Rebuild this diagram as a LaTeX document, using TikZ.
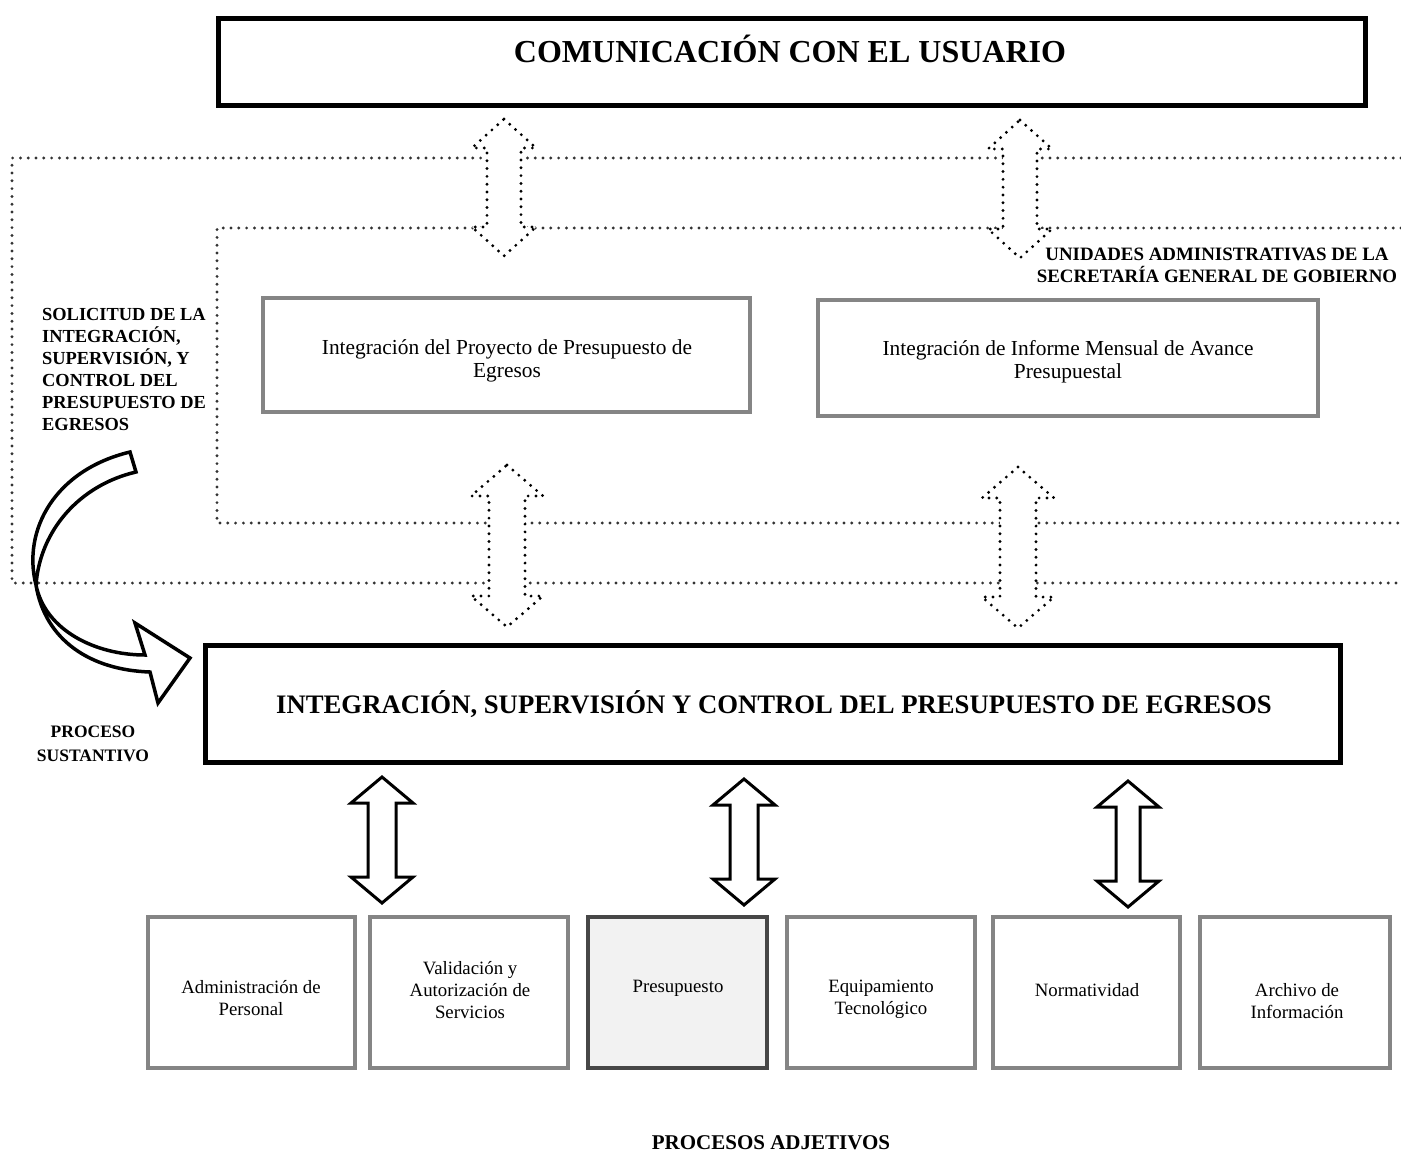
\documentclass[tikz,border=0pt]{standalone}
\usepackage{fontspec}
\setmainfont{Liberation Serif}
\newcommand\vdblarrow[7]{% style, cx, ytop, ybot, headhalf, shafthalf, headlen
  \draw[#1] (#2,#3) -- ({#2+#5},{#3+#7}) -- ({#2+#6},{#3+#7}) -- ({#2+#6},{#4-#7})
    -- ({#2+#5},{#4-#7}) -- (#2,#4) -- ({#2-#5},{#4-#7}) -- ({#2-#6},{#4-#7})
    -- ({#2-#6},{#3+#7}) -- ({#2-#5},{#3+#7}) -- cycle;}
\begin{document}
\begin{tikzpicture}[x=1pt,y=-1pt,
  thickbox/.style={draw=black, line width=5pt, fill=white, inner sep=0pt},
  graybox/.style={draw=black!48, line width=4pt, fill=white, inner sep=0pt},
  darkbox/.style={draw=black!72, line width=4pt, fill=black!5, inner sep=0pt},
  dotline/.style={line width=3.2pt, dash pattern=on 0pt off 7.8pt, line cap=round, draw=black!80},
  dotarrow/.style={line width=3.2pt, dash pattern=on 0pt off 7.8pt, line cap=round, draw=black, fill=white},
  solidarrow/.style={draw=black, line width=3pt, fill=white, line join=miter},
  boldlbl/.style={font=\bfseries\fontsize{18.4}{22}\selectfont, inner sep=0pt},
  boxtxt/.style={font=\fontsize{18.8}{22}\selectfont, align=center, inner sep=0pt},
  midtxt/.style={font=\fontsize{21.4}{23}\selectfont, align=center, inner sep=0pt},
]
\useasboundingbox (0,0) rectangle (1401,1151);

% dotted frames
\draw[dotline] (1401,158) -- (12,158) -- (12,583) -- (1401,583);
\draw[dotline] (1401,228) -- (217,228) -- (217,523) -- (1401,523);

% top box
\node[thickbox, minimum width=1147pt, minimum height=87pt] (usuario) at (791.5,61.5) {};
\node[font=\bfseries\fontsize{32}{38}\selectfont, anchor=base, inner sep=0pt] (usuariotxt) at (790,62) {COMUNICACIÓN CON EL USUARIO};

% middle boxes
\node[graybox, minimum width=487pt, minimum height=114pt] (proyecto) at (506.5,355) {};
\node[midtxt] (proyectotxt) at (507,361) {Integración del Proyecto de Presupuesto de\\Egresos};
\node[graybox, minimum width=500pt, minimum height=116pt] (informe) at (1068,358) {};
\node[midtxt] (informetxt) at (1068,362) {Integración de Informe Mensual de Avance\\Presupuestal};

% dotted double arrows
\vdblarrow{dotarrow}{504}{119}{256}{32}{17}{29}
\vdblarrow{dotarrow}{1020}{120}{258}{32}{17}{29}
\vdblarrow{dotarrow}{507}{465}{627}{36}{18}{31}
\vdblarrow{dotarrow}{1018}{467}{628}{36}{18}{31}

% labels
\node[boldlbl, align=left, anchor=north west] (solicitud) at (42,308)
  {SOLICITUD DE LA\\INTEGRACIÓN,\\SUPERVISIÓN, Y\\CONTROL DEL\\PRESUPUESTO DE\\EGRESOS};
\node[boldlbl, font=\bfseries\fontsize{18.9}{22}\selectfont, align=center, anchor=north] (unidades) at (1217,248)
  {UNIDADES ADMINISTRATIVAS DE LA\\SECRETARÍA GENERAL DE GOBIERNO};

% central box
\node[thickbox, minimum width=1135pt, minimum height=117pt] (central) at (772.5,703.5) {};
\node[font=\bfseries\fontsize{26.7}{32}\selectfont, anchor=base, inner sep=0pt] (centraltxt) at (774,713)
  {INTEGRACIÓN, SUPERVISIÓN Y CONTROL DEL PRESUPUESTO DE EGRESOS};

% curved arrow
\draw[draw=black, line width=3.5pt, fill=white, line join=miter]
  (130,452) .. controls (55,470) and (22,530) .. (36,585)
  .. controls (45,630) and (95,655) .. (145,655)
  -- (135,623) -- (190,658) -- (158,703) -- (150,672)
  .. controls (90,670) and (45,640) .. (36,585)
  .. controls (40,530) and (80,485) .. (136,472) -- cycle;

\node[boldlbl, font=\bfseries\fontsize{17.5}{24}\selectfont, align=center, anchor=north] (sustantivo) at (93,726)
  {PROCESO\\SUSTANTIVO};

% solid double arrows
\vdblarrow{solidarrow}{382}{777}{903}{31}{14}{26}
\vdblarrow{solidarrow}{744}{779}{905}{31}{14}{26}
\vdblarrow{solidarrow}{1128}{781}{907}{31}{12}{26}

% bottom boxes
\node[graybox, minimum width=207pt, minimum height=151pt] (b1) at (251.5,992.5) {};
\node[boxtxt] (b1t) at (251,998) {Administración de\\Personal};
\node[graybox, minimum width=198pt, minimum height=151pt] (b2) at (469,992.5) {};
\node[boxtxt] (b2t) at (470,990) {Validación y\\Autorización de\\Servicios};
\node[darkbox, minimum width=179pt, minimum height=151pt] (b3) at (677.5,992.5) {};
\node[boxtxt] (b3t) at (678,988) {Presupuesto};
\node[graybox, minimum width=188pt, minimum height=151pt] (b4) at (881,992.5) {};
\node[boxtxt] (b4t) at (881,999) {Equipamiento\\Tecnológico};
\node[graybox, minimum width=187pt, minimum height=151pt] (b5) at (1086.5,992.5) {};
\node[boxtxt] (b5t) at (1087,990) {Normatividad};
\node[graybox, minimum width=190pt, minimum height=151pt] (b6) at (1295,992.5) {};
\node[boxtxt] (b6t) at (1297,1001) {Archivo de\\Información};

\node[font=\bfseries\fontsize{21}{24}\selectfont, anchor=base, inner sep=0pt] (adjetivos) at (771,1149) {PROCESOS ADJETIVOS};
\end{tikzpicture}
\end{document}
